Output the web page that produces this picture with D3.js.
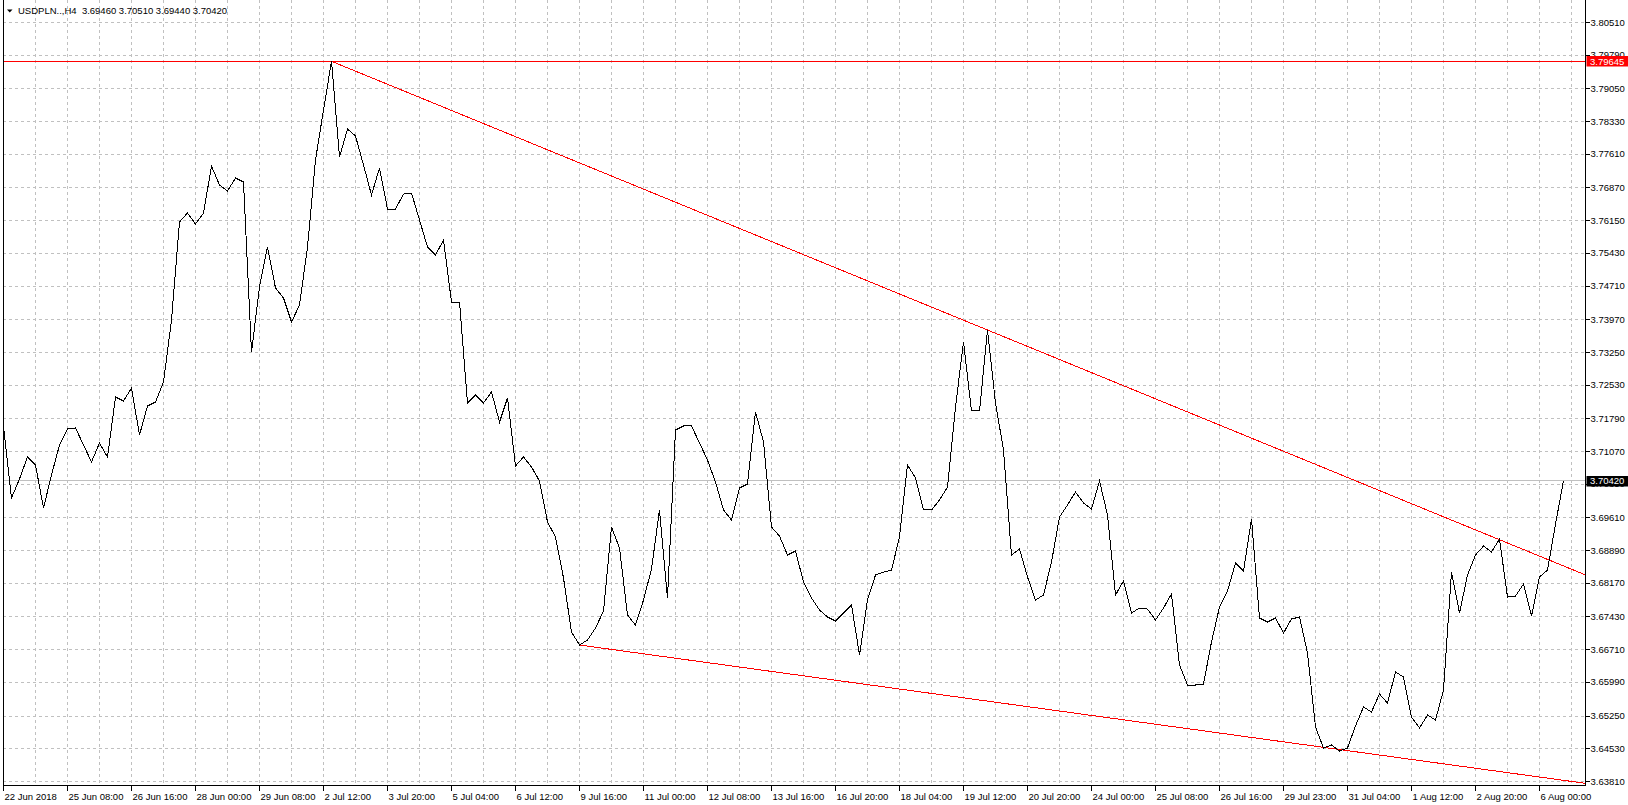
<!DOCTYPE html>
<html>
<head>
<meta charset="utf-8">
<script src="https://cdnjs.cloudflare.com/ajax/libs/d3/7.8.5/d3.min.js"></script>
<style>
  html, body { margin: 0; padding: 0; background: #fff; }
  svg { display: block; font-family: "Liberation Sans", Arial, sans-serif; }
</style>
</head>
<body>
<div id="chart"></div>
<script>
// USDPLN H4 close prices, one per bar.
var symbol = 'USDPLN..,H4';
var lastBar = [3.69460, 3.70510, 3.69440, 3.70420];
var closes = [
  3.71621, 3.70037, 3.70455, 3.70939, 3.70763, 3.69817, 3.70543, 3.71203, 3.71555, 3.71577,
  3.71203, 3.70829, 3.71247, 3.70939, 3.72259, 3.72171, 3.72457, 3.71423, 3.72061, 3.72149,
  3.72589, 3.73953, 3.76109, 3.76307, 3.76065, 3.76307, 3.77342, 3.76923, 3.76791, 3.77078,
  3.76990, 3.73249, 3.74679, 3.75559, 3.74657, 3.74437, 3.73909, 3.74283, 3.75559, 3.77474,
  3.78574, 3.79645, 3.77540, 3.78156, 3.78002, 3.77364, 3.76703, 3.77298, 3.76395, 3.76395,
  3.76725, 3.76747, 3.76153, 3.75559, 3.75383, 3.75713, 3.74349, 3.74349, 3.72127, 3.72303,
  3.72127, 3.72369, 3.71709, 3.72237, 3.70741, 3.70939, 3.70719, 3.70411, 3.69508, 3.69178,
  3.68276, 3.67088, 3.66802, 3.66912, 3.67176, 3.67550, 3.69398, 3.68936, 3.67462, 3.67242,
  3.67792, 3.68474, 3.69773, 3.67836, 3.71533, 3.71621, 3.71621, 3.71247, 3.70873, 3.70389,
  3.69773, 3.69552, 3.70257, 3.70345, 3.71929, 3.71269, 3.69398, 3.69200, 3.68782, 3.68870,
  3.68188, 3.67836, 3.67572, 3.67418, 3.67330, 3.67506, 3.67682, 3.66582, 3.67792, 3.68342,
  3.68408, 3.68452, 3.69178, 3.70763, 3.70477, 3.69773, 3.69773, 3.69993, 3.70279, 3.72039,
  3.73469, 3.71951, 3.71951, 3.73733, 3.72127, 3.71093, 3.68782, 3.68914, 3.68298, 3.67792,
  3.67902, 3.68628, 3.69618, 3.69883, 3.70169, 3.69927, 3.69795, 3.70411, 3.69663, 3.67902,
  3.68210, 3.67506, 3.67616, 3.67594, 3.67352, 3.67616, 3.67924, 3.66362, 3.65922, 3.65922,
  3.65944, 3.66868, 3.67638, 3.67990, 3.68606, 3.68430, 3.69574, 3.67396, 3.67308, 3.67396,
  3.67066, 3.67374, 3.67418, 3.66626, 3.64998, 3.64536, 3.64602, 3.64470, 3.64536, 3.65020,
  3.65438, 3.65328, 3.65724, 3.65526, 3.66208, 3.66098, 3.65218, 3.64976, 3.65262, 3.65152,
  3.65812, 3.68408, 3.67506, 3.68342, 3.68782, 3.68980, 3.68848, 3.69134, 3.67858, 3.67880,
  3.68144, 3.67440, 3.68298, 3.68452, 3.69460, 3.70420
];

// one time label every 8 bars
var xTickLabels = [
  '22 Jun 2018', '25 Jun 08:00', '26 Jun 16:00', '28 Jun 00:00', '29 Jun 08:00',
  '2 Jul 12:00', '3 Jul 20:00', '5 Jul 04:00', '6 Jul 12:00', '9 Jul 16:00',
  '11 Jul 00:00', '12 Jul 08:00', '13 Jul 16:00', '16 Jul 20:00', '18 Jul 04:00',
  '19 Jul 12:00', '20 Jul 20:00', '24 Jul 00:00', '25 Jul 08:00', '26 Jul 16:00',
  '29 Jul 23:00', '31 Jul 04:00', '1 Aug 12:00', '2 Aug 20:00', '6 Aug 00:00'
];

var yTickLabels = [
  '3.80510', '3.79790', '3.79050', '3.78330', '3.77610', '3.76870', '3.76150', '3.75430',
  '3.74710', '3.73970', '3.73250', '3.72530', '3.71790', '3.71070', '3.70350', '3.69610',
  '3.68890', '3.68170', '3.67430', '3.66710', '3.65990', '3.65250', '3.64530', '3.63810'
];

// drawn objects: horizontal level and two trend lines as [bar, price] anchors
var resistance = 3.79645;
var upperTrend = [[41, 3.79645], [123, 3.73733]];
var lowerTrend = [[72, 3.66802], [165, 3.64551]];

(function() {
  var width = 1628,
      height = 805,
      left = 3,
      right = 1585,
      bottom = 785,
      barSpacing = 8,
      fontSize = '9.5px';

  var svg = d3.select('#chart').append('svg')
      .attr('width', width)
      .attr('height', height);

  svg.append('rect')
      .attr('width', width).attr('height', height)
      .attr('fill', '#fff');

  var x = d3.scaleLinear()
      .domain([0, closes.length - 1])
      .range([3.5, 3.5 + barSpacing * (closes.length - 1)]);

  var yTicks = yTickLabels.map(Number);
  var y = d3.scaleLinear()
      .domain([yTicks[yTicks.length - 1], yTicks[0]])
      .range([781, 22]);

  var lastIndex = x.invert(right);

  svg.append('clipPath').attr('id', 'plot-clip')
    .append('rect')
      .attr('x', left).attr('y', 0)
      .attr('width', right - left).attr('height', bottom);

  // grid
  var grid = svg.append('g')
      .attr('stroke', '#c0c0c0')
      .attr('stroke-dasharray', '3,3')
      .attr('shape-rendering', 'crispEdges');

  grid.selectAll('line.h').data(yTicks)
    .enter().append('line')
      .attr('class', 'h')
      .attr('x1', left).attr('x2', right)
      .attr('y1', function(d) { return Math.round(y(d)) + 0.5; })
      .attr('y2', function(d) { return Math.round(y(d)) + 0.5; });

  var vBars = d3.range(4, Math.floor(lastIndex) + 1, 4);
  grid.selectAll('line.v').data(vBars)
    .enter().append('line')
      .attr('class', 'v')
      .attr('x1', function(d) { return Math.floor(x(d)) + 0.5; })
      .attr('x2', function(d) { return Math.floor(x(d)) + 0.5; })
      .attr('y1', 0).attr('y2', bottom);

  var plot = svg.append('g').attr('clip-path', 'url(#plot-clip)');

  // current price line
  var lastPrice = closes[closes.length - 1];
  plot.append('line')
      .attr('x1', left).attr('x2', right)
      .attr('y1', y(lastPrice)).attr('y2', y(lastPrice))
      .attr('stroke', '#c0c0c0')
      .attr('shape-rendering', 'crispEdges');

  // red objects
  plot.append('line')
      .attr('x1', left).attr('x2', right)
      .attr('y1', y(resistance)).attr('y2', y(resistance))
      .attr('stroke', '#ff0000')
      .attr('shape-rendering', 'crispEdges');

  function trendEnd(anchors) {
    var a = anchors[0], b = anchors[1];
    var slope = (b[1] - a[1]) / (b[0] - a[0]);
    return [a, [lastIndex, a[1] + slope * (lastIndex - a[0])]];
  }

  var trendLine = d3.line()
      .x(function(d) { return x(d[0]); })
      .y(function(d) { return y(d[1]); });

  [upperTrend, lowerTrend].forEach(function(t) {
    plot.append('path')
        .attr('d', trendLine(trendEnd(t)))
        .attr('fill', 'none')
        .attr('stroke', '#ff0000')
        .attr('stroke-width', 1)
        .attr('shape-rendering', 'crispEdges');
  });

  // close price line
  var priceLine = d3.line()
      .x(function(d, i) { return x(i); })
      .y(function(d) { return y(d); });

  plot.append('path')
      .attr('d', priceLine(closes))
      .attr('fill', 'none')
      .attr('stroke', '#000')
      .attr('stroke-width', 1)
      .attr('shape-rendering', 'crispEdges');

  // frame
  svg.append('path')
      .attr('d', 'M' + (left + 0.5) + ',0V' + (bottom + 0.5) + 'H' + (right + 0.5) + 'V0')
      .attr('fill', 'none')
      .attr('stroke', '#000')
      .attr('shape-rendering', 'crispEdges');

  // price axis
  var yAxis = d3.axisRight(y)
      .tickValues(yTicks)
      .tickFormat(function(d, i) { return yTickLabels[i]; })
      .tickSize(4)
      .tickPadding(1);

  var yg = svg.append('g')
      .attr('transform', 'translate(' + (right + 0.5) + ',0)')
      .call(yAxis);
  yg.select('.domain').remove();
  yg.selectAll('text').attr('font-size', fontSize).attr('fill', '#000');
  yg.selectAll('line').attr('shape-rendering', 'crispEdges');

  // time axis
  var xBars = xTickLabels.map(function(d, i) { return i * 8; });
  var xAxis = d3.axisBottom(x)
      .tickValues(xBars)
      .tickFormat(function(d, i) { return xTickLabels[i]; })
      .tickSize(5)
      .tickPadding(3);

  var xg = svg.append('g')
      .attr('transform', 'translate(-0.5,' + (bottom + 0.5) + ')')
      .call(xAxis);
  xg.select('.domain').remove();
  xg.selectAll('text')
      .attr('font-size', fontSize)
      .attr('fill', '#000')
      .attr('text-anchor', 'start')
      .attr('x', 1);
  xg.selectAll('line').attr('shape-rendering', 'crispEdges');

  // price tags on the axis
  function tag(price, bg) {
    var cy = y(price);
    svg.append('rect')
        .attr('x', right + 1.5).attr('y', Math.round(cy) - 5)
        .attr('width', width - right).attr('height', 10.5)
        .attr('fill', bg);
    svg.append('text')
        .attr('x', right + 5).attr('y', cy)
        .attr('dy', '0.36em')
        .attr('font-size', fontSize)
        .attr('fill', '#fff')
        .text(price.toFixed(5));
  }
  tag(resistance, '#ff0000');
  tag(lastPrice, '#000');

  // header
  svg.append('path')
      .attr('d', 'M7,9.5H12.5L9.75,12.5Z')
      .attr('fill', '#000');
  svg.append('text')
      .attr('x', 18).attr('y', 14)
      .attr('font-size', fontSize)
      .attr('fill', '#000')
      .style('white-space', 'pre')
      .text(symbol + '  ' + lastBar.map(function(v) { return v.toFixed(5); }).join(' '));
})();
</script>
</body>
</html>
